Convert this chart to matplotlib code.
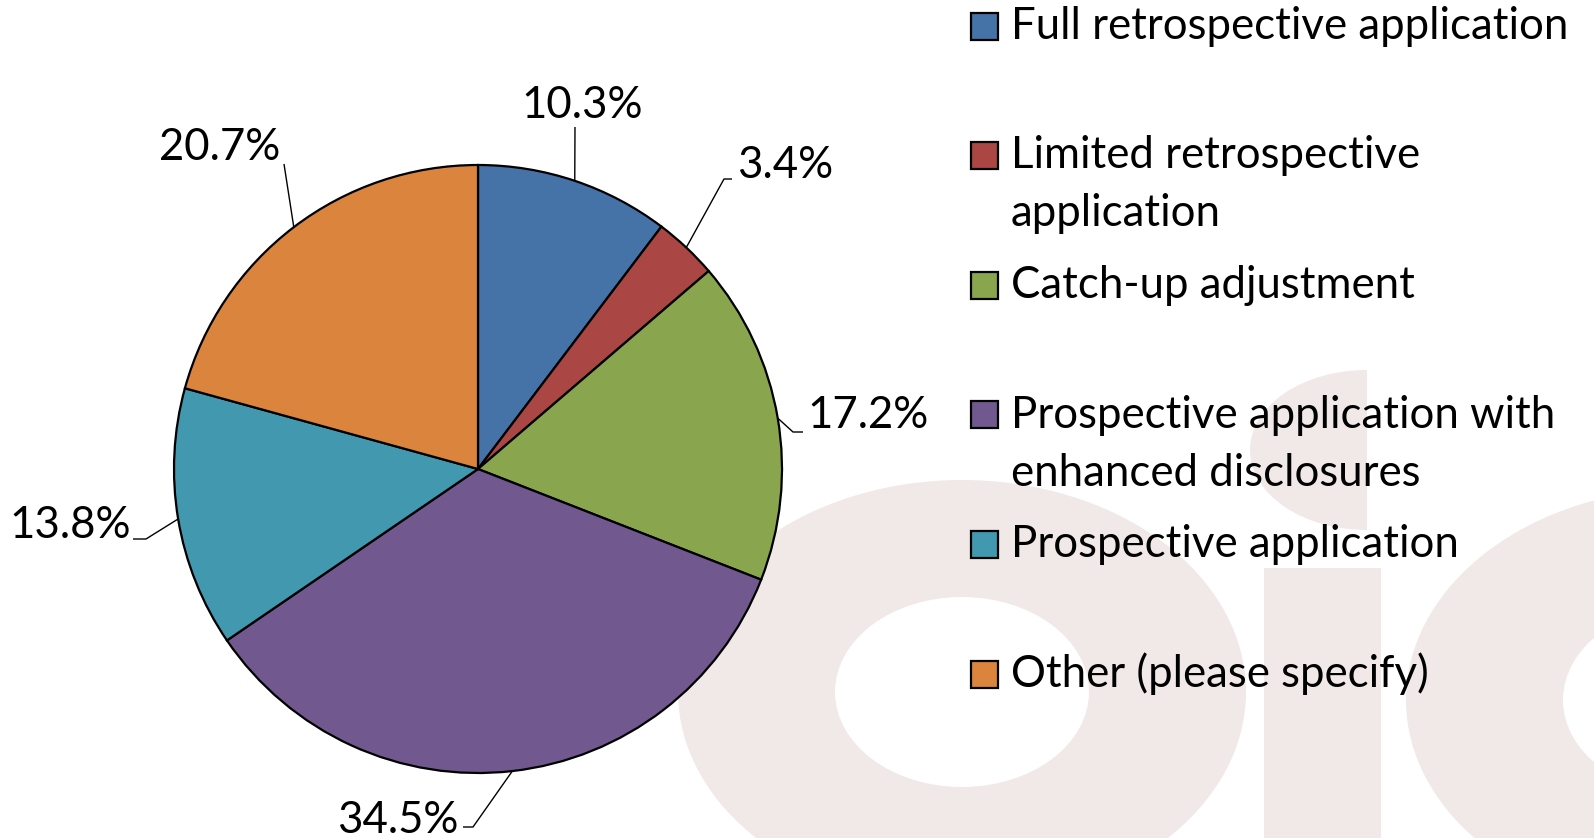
import matplotlib
matplotlib.use("Agg")
import matplotlib.pyplot as plt
from matplotlib.patches import Ellipse, Rectangle
import numpy as np

# ---- data ----
categories = [
    "Full retrospective application",
    "Limited retrospective\napplication",
    "Catch-up adjustment",
    "Prospective application with\nenhanced disclosures",
    "Prospective application",
    "Other (please specify)",
]
values = [10.3, 3.4, 17.2, 34.5, 13.8, 20.7]
colors = ["#4572a7", "#aa4643", "#89a54e", "#71588f", "#4198af", "#db843d"]

W, H = 1594, 838
FONT = "Lato"
FS = 31.5

fig = plt.figure(figsize=(W / 100, H / 100), dpi=100)
ax = fig.add_axes([0, 0, 1, 1])

def Y(y):
    return H - y

# ---- faint watermark ----
wm = "#f1e8e8"
for cx, cy in [(962, 692), (1690, 700)]:
    ax.add_patch(Ellipse((cx, Y(cy)), 2 * 284, 2 * 212, color=wm, zorder=0, lw=0))
    ax.add_patch(Ellipse((cx, Y(cy)), 2 * 127, 2 * 95, color="white", zorder=0.1, lw=0))
ax.add_patch(Rectangle((1264, Y(838)), 117, 838 - 568, color=wm, zorder=0, lw=0))
dot = Ellipse((1367, Y(450)), 2 * 117, 2 * 80, color=wm, zorder=0, lw=0)
ax.add_patch(dot)
clip = Rectangle((1200, Y(560)), 167, 200, transform=ax.transData)
dot.set_clip_path(clip)

# ---- pie ----
cx, cy, R = 478, Y(469), 304
wedges, _ = ax.pie(values, colors=colors, startangle=90, counterclock=False,
                   center=(cx, cy), radius=R,
                   wedgeprops=dict(edgecolor="black", linewidth=1.6))
for w in wedges:
    w.set_zorder(2)

# label positions (text centers) and leader-line elbows (pixel layout)
label_pos = [(582, 105), (785, 165), (868, 416), (398, 820), (70, 525), (220, 148)]
leaders = [
    [(575, 127)],
    [(724, 179), (732, 179)],
    [(793, 432), (803, 432)],
    [(473, 827), (463, 827)],
    [(146, 539), (133, 539)],
    [(284, 164)],
]
for w, v, (tx, ty), pts in zip(wedges, values, label_pos, leaders):
    mid = np.deg2rad((w.theta1 + w.theta2) / 2)
    ax0 = cx + R * np.cos(mid)
    ay0 = cy + R * np.sin(mid)
    xs = [ax0] + [p[0] for p in pts]
    ys = [ay0] + [Y(p[1]) for p in pts]
    ax.plot(xs, ys, color="black", lw=1.0, zorder=3, solid_capstyle="butt")
    ax.text(tx, Y(ty), f"{v:.1f}%", ha="center", va="center",
            fontsize=FS, family=FONT, zorder=4)

# ---- legend ----
sq = 27
for i, (cat, col) in enumerate(zip(categories, colors)):
    yc = 26.5 + 129.5 * i
    ax.add_patch(Rectangle((971, Y(yc) - sq / 2), sq, sq, facecolor=col,
                           edgecolor="black", lw=1.6, zorder=4))
    for j, line in enumerate(cat.split("\n")):
        ax.text(1011, Y(yc + 58 * j), line, ha="left", va="center",
                fontsize=FS, family=FONT, zorder=4)

ax.set_xlim(0, W)
ax.set_ylim(0, H)
ax.set_aspect("auto")
ax.axis("off")

fig.savefig("out.png", dpi=100, facecolor="white")
